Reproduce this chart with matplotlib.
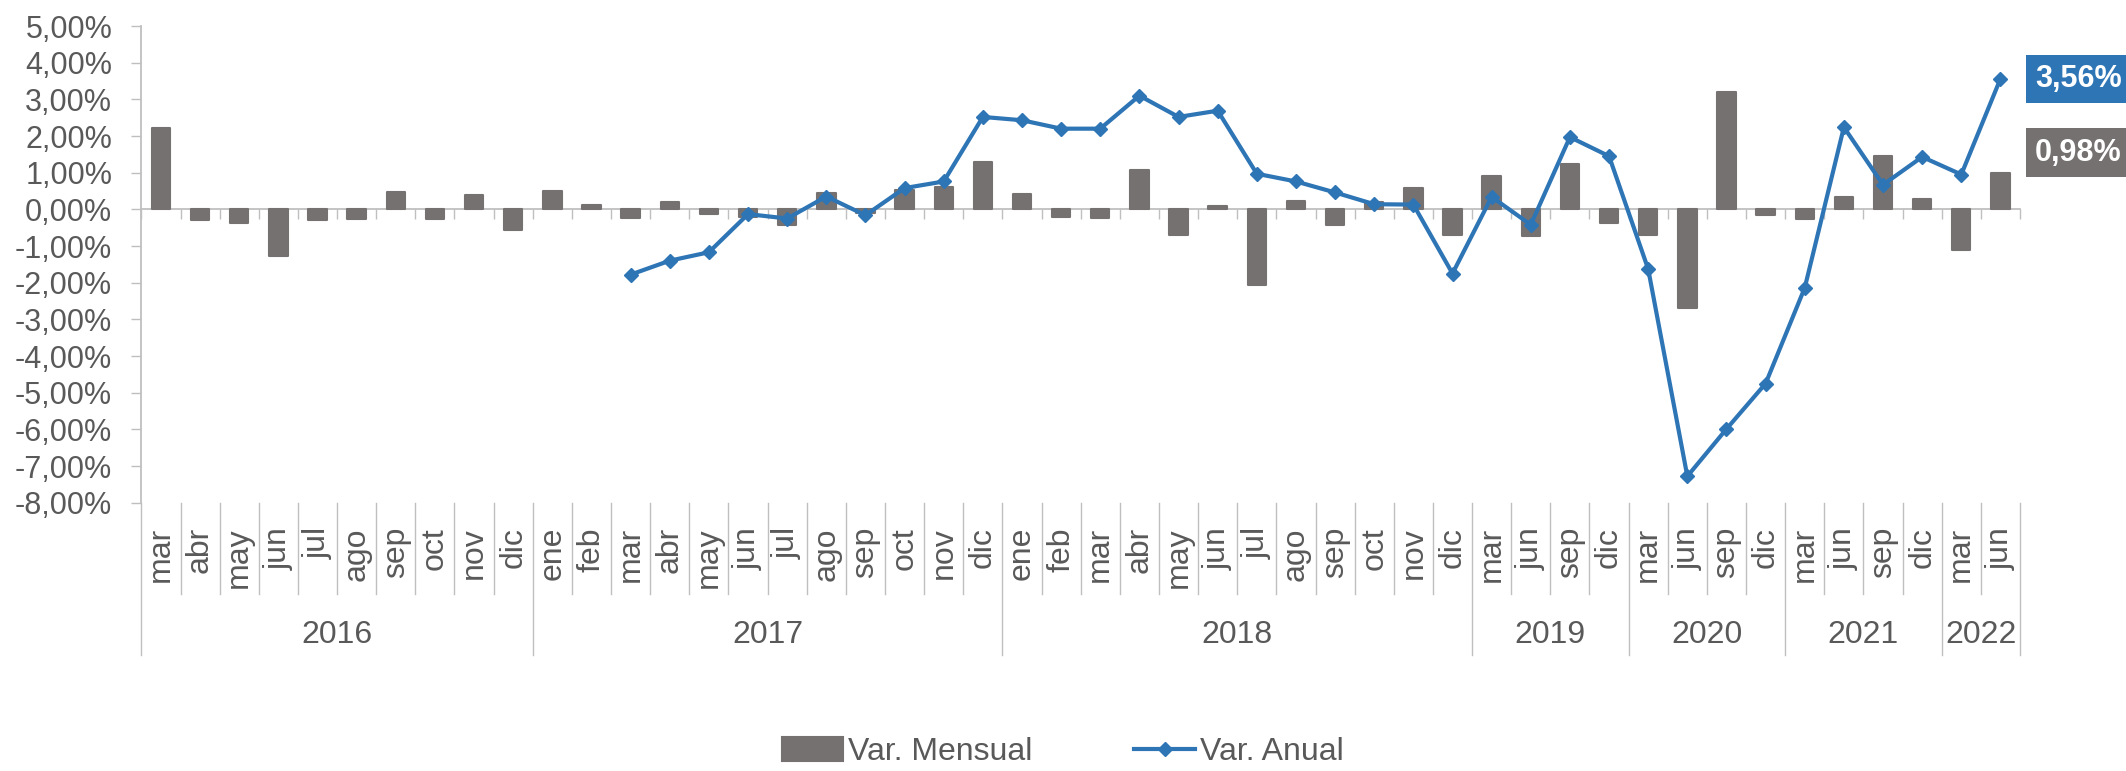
import numpy as np
import matplotlib
matplotlib.use("Agg")
import matplotlib.pyplot as plt
import matplotlib.transforms as mtransforms

plt.rcParams["font.family"] = ["Liberation Sans", "DejaVu Sans"]

# categories
years = ["2016", "2017", "2018", "2019", "2020", "2021", "2022"]
months = [
    ["mar", "abr", "may", "jun", "jul", "ago", "sep", "oct", "nov", "dic"],
    ["ene", "feb", "mar", "abr", "may", "jun", "jul", "ago", "sep", "oct", "nov", "dic"],
    ["ene", "feb", "mar", "abr", "may", "jun", "jul", "ago", "sep", "oct", "nov", "dic"],
    ["mar", "jun", "sep", "dic"],
    ["mar", "jun", "sep", "dic"],
    ["mar", "jun", "sep", "dic"],
    ["mar", "jun"],
]

# Var. Mensual (%)
mensual = [
    2.22, -0.28, -0.37, -1.26, -0.28, -0.25, 0.46, -0.25, 0.38, -0.55,
    0.49, 0.13, -0.23, 0.19, -0.13, -0.20, -0.42, 0.45, -0.10, 0.54, 0.60, 1.28,
    0.42, -0.21, -0.24, 1.06, -0.71, 0.08, -2.07, 0.23, -0.44, 0.19, 0.57, -0.71,
    0.92, -0.74, 1.25, -0.37,
    -0.69, -2.70, 3.19, -0.16,
    -0.25, 0.34, 1.45, 0.28,
    -1.10, 0.98,
]

# Var. Anual (%), starts mar 2017
anual = [np.nan] * 12 + [
    -1.78, -1.40, -1.17, -0.13, -0.25, 0.35, -0.16, 0.58, 0.76, 2.52,
    2.43, 2.20, 2.20, 3.10, 2.52, 2.69, 0.97, 0.76, 0.46, 0.14, 0.13, -1.75,
    0.34, -0.42, 1.97, 1.45,
    -1.63, -7.28, -5.99, -4.75,
    -2.14, 2.24, 0.67, 1.43,
    0.95, 3.56,
]

GRAY_BAR = "#767171"
BLUE = "#2E75B6"
AXIS = "#BFBFBF"
TXT = "#595959"

fig = plt.figure(figsize=(21.26, 7.71), dpi=100)
ax = fig.add_axes([141.4 / 2126, 1 - 502.7 / 771, (2020 - 141.4) / 2126, (502.7 - 26) / 771])

x = np.arange(len(mensual))
bars = ax.bar(x, mensual, width=0.47, color=GRAY_BAR, edgecolor=GRAY_BAR,
              linewidth=1.5, joinstyle="round", label="Var. Mensual", zorder=2)
line, = ax.plot(x, anual, color=BLUE, linewidth=3, marker="D", markersize=7,
                label="Var. Anual", zorder=3)

ax.set_xlim(-0.5, len(mensual) - 0.5)
ax.set_ylim(-8, 5)
ax.set_yticks(np.arange(-8, 6, 1))
ax.set_yticklabels([f"{v:.2f}%".replace(".", ",") for v in np.arange(-8, 6, 1)])
ax.tick_params(axis="y", direction="out", length=7, width=1, color=AXIS,
               labelcolor=TXT, labelsize=22, pad=14)

# category axis line at zero with boundary ticks
ax.spines["bottom"].set_position(("data", 0))
ax.spines["bottom"].set_color(AXIS)
ax.spines["bottom"].set_linewidth(1.3)
ax.spines["bottom"].set_zorder(1)
ax.set_xticks(np.arange(-0.5, len(mensual), 1))
ax.set_xticklabels([])
ax.tick_params(axis="x", direction="out", length=7, width=1, color=AXIS)
ax.spines["left"].set_color(AXIS)
ax.spines["left"].set_linewidth(1.3)
ax.spines["top"].set_visible(False)
ax.spines["right"].set_visible(False)

# multi-level category labels below the plot
trans = mtransforms.blended_transform_factory(ax.transData, ax.transAxes)
pos = 0
for yr, ms in zip(years, months):
    start = pos
    for m in ms:
        ax.text(pos, -0.051, m, rotation=90, ha="center", va="top", fontsize=23,
                color=TXT, transform=trans)
        pos += 1
    ax.text((start + pos - 1) / 2, -0.278, yr, ha="center", va="center",
            fontsize=23, color=TXT, transform=trans)

year_edges = [-0.5]
for ms in months:
    year_edges.append(year_edges[-1] + len(ms))
for b in np.arange(-0.5, len(mensual), 1):
    bottom = -0.3196 if b in year_edges else -0.1917
    ax.plot([b, b], [0, bottom], color=AXIS, linewidth=1, transform=trans, clip_on=False)

# end value labels
ax.annotate(f"{anual[-1]:.2f}%".replace(".", ","), xy=(x[-1], anual[-1]),
            xytext=(25, 0), textcoords="offset points", ha="left", va="center",
            fontsize=22, fontweight="bold", color="white",
            bbox=dict(boxstyle="square,pad=0.3", fc=BLUE, ec="none"))
ax.annotate(f"{mensual[-1]:.2f}%".replace(".", ","), xy=(x[-1], mensual[-1]),
            xytext=(25, 15), textcoords="offset points", ha="left", va="center",
            fontsize=22, fontweight="bold", color="white",
            bbox=dict(boxstyle="square,pad=0.3", fc=GRAY_BAR, ec="none"))

fig.legend(handles=[bars, line], labels=["Var. Mensual", "Var. Anual"],
           loc="center", bbox_to_anchor=(0.5, 1 - 752 / 771), ncol=2, frameon=False,
           fontsize=23, labelcolor=TXT, handlelength=1.9, handleheight=0.75,
           handletextpad=0.15, columnspacing=3.2, borderpad=0)

fig.savefig("out.png", dpi=100)
